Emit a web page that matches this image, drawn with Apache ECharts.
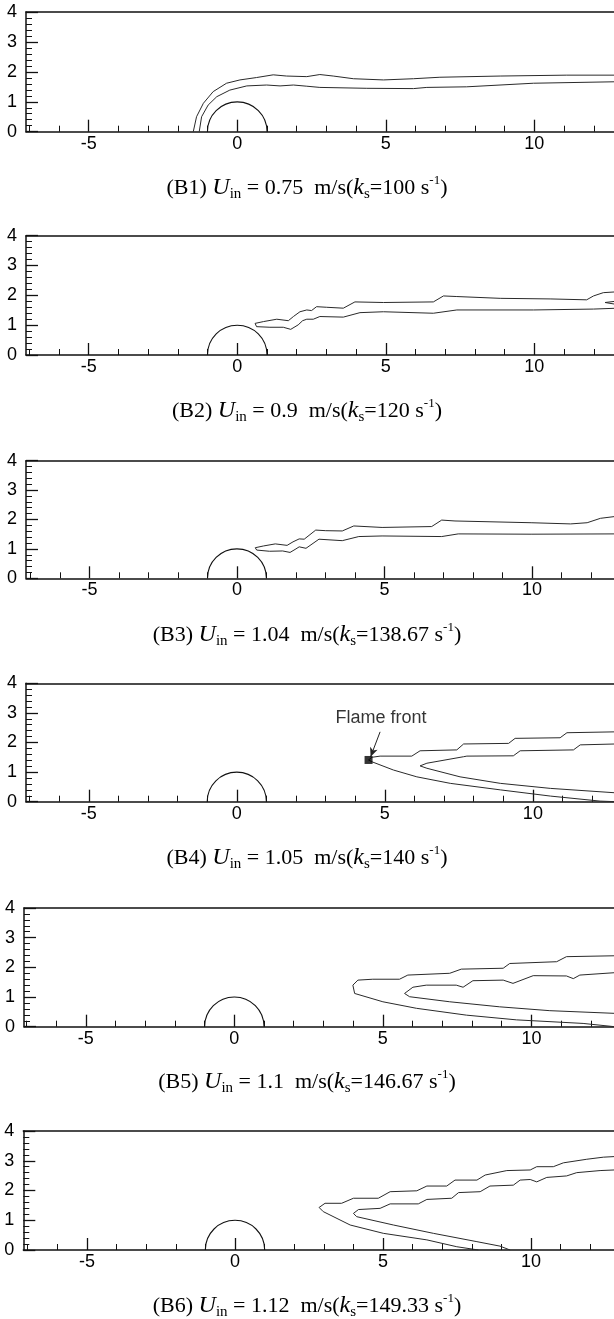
<!DOCTYPE html>
<html><head><meta charset="utf-8">
<script src="https://cdn.jsdelivr.net/npm/echarts@6/dist/echarts.min.js"></script>
<style>html,body{margin:0;padding:0;background:#fff}#c{width:614px;height:1319px}</style>
</head><body><div id="c"></div><script>
// ---------- data ----------
const xMajorTicks = [-5, 0, 5, 10];
const xMinorTicks = [-7, -6, -4, -3, -2, -1, 1, 2, 3, 4, 6, 7, 8, 9, 11, 12];
const yTicks = [0, 1, 2, 3, 4];
const obstacle = [[0, 0, 1]]; // centre x, centre y, radius
const caseIds = ['B1', 'B2', 'B3', 'B4', 'B5', 'B6'];
const caseUin = ['0.75', '0.9', '1.04', '1.05', '1.1', '1.12'];
const caseKs = ['100', '120', '138.67', '140', '146.67', '149.33'];
const flameFront = [[4.45, 1.41]];
const flameFrontLabel = [[4.87, 2.83]];
const flameFrontArrow = [[4.84, 2.36], [4.52, 1.52]];

const b1Outer = [[-1.48,0],[-1.37,0.5],[-1.14,0.95],[-0.81,1.34],[-0.36,1.62],[0.09,1.73],[0.65,1.81],[1.21,1.9],[1.66,1.86],[2.34,1.84],[2.78,1.91],[3.23,1.86],[3.91,1.77],[4.92,1.73],[5.93,1.77],[6.82,1.82],[8.85,1.86],[11.09,1.89],[12.8,1.89]];
const b1Inner = [[-1.28,0],[-1.2,0.5],[-0.98,0.89],[-0.69,1.17],[-0.25,1.39],[0.32,1.53],[0.99,1.56],[1.44,1.53],[1.89,1.56],[2.34,1.52],[2.78,1.48],[4.36,1.45],[5.93,1.44],[6.38,1.48],[7.72,1.5],[9.97,1.62],[12.8,1.67]];

const b2Upper = [[0.6,1.06],[0.88,1.12],[1.33,1.2],[1.72,1.15],[1.89,1.29],[2.11,1.45],[2.34,1.51],[2.5,1.49],[2.67,1.62],[3.01,1.6],[3.57,1.57],[3.96,1.78],[4.92,1.76],[6.6,1.78],[6.94,1.98],[7.39,1.96],[8.85,1.9],[10.53,1.88],[11.76,1.85],[11.99,1.98],[12.32,2.09],[12.8,2.12]];
const b2Lower = [[0.6,1.06],[0.65,0.95],[1.1,0.93],[1.55,0.93],[1.8,0.86],[2.05,1.01],[2.2,1.15],[2.34,1.2],[2.56,1.2],[2.78,1.29],[3.57,1.27],[4.13,1.42],[4.92,1.45],[6.6,1.4],[7.39,1.51],[9.97,1.51],[11.99,1.54],[12.8,1.57]];
const b2Tail = [[12.8,1.81],[12.38,1.76],[12.8,1.69]];

const b3Upper = [[0.62,1.04],[0.9,1.1],[1.3,1.17],[1.7,1.12],[1.9,1.24],[2.11,1.34],[2.28,1.33],[2.67,1.64],[3.01,1.62],[3.57,1.61],[3.96,1.78],[4.92,1.73],[6.6,1.76],[6.94,1.98],[7.39,1.95],[9.97,1.89],[11.31,1.85],[11.87,1.89],[12.32,2.04],[12.8,2.1]];
const b3Lower = [[0.62,1.04],[0.67,0.96],[1.1,0.92],[1.55,0.93],[1.8,0.88],[2.0,1.0],[2.11,1.07],[2.34,1.02],[2.78,1.33],[3.57,1.28],[4.13,1.42],[4.92,1.44],[6.94,1.42],[7.5,1.51],[9.97,1.5],[12.8,1.51]];

const b4OuterUpper = [[4.45,1.41],[4.56,1.5],[4.84,1.54],[5.91,1.54],[6.19,1.72],[7.43,1.75],[7.66,1.95],[9.18,1.97],[9.4,2.14],[10.92,2.16],[11.15,2.33],[12.8,2.36]];
const b4OuterLower = [[4.45,1.41],[4.56,1.35],[5.29,1.07],[6.08,0.84],[7.21,0.62],[8.9,0.4],[10.59,0.19],[12.27,0.02],[12.8,0]];
const b4InnerUpper = [[6.19,1.21],[6.42,1.3],[7.66,1.52],[7.77,1.54],[9.34,1.55],[9.57,1.72],[11.37,1.75],[11.6,1.92],[12.8,1.95]];
const b4InnerLower = [[6.19,1.21],[6.42,1.13],[7.54,0.84],[8.9,0.62],[10.59,0.45],[12.8,0.3]];

const b5OuterUpper = [[3.99,1.4],[4.16,1.57],[4.66,1.6],[5.56,1.6],[5.84,1.74],[7.25,1.8],[7.64,1.94],[9.05,1.97],[9.27,2.13],[10.85,2.19],[11.18,2.36],[12.8,2.39]];
const b5OuterLower = [[3.99,1.4],[4.05,1.12],[5.0,0.84],[6.13,0.62],[7.81,0.39],[9.5,0.23],[11.74,0.11],[12.8,0]];
const b5InnerUpper = [[5.73,1.12],[6.01,1.33],[6.46,1.4],[7.47,1.4],[7.7,1.33],[8.03,1.55],[9.05,1.57],[9.38,1.46],[10.06,1.72],[11.18,1.71],[11.41,1.62],[11.63,1.74],[12.8,1.82]];
const b5InnerLower = [[5.73,1.12],[5.9,1.01],[7.25,0.84],[8.93,0.67],[10.62,0.54],[12.8,0.45]];

const b6OuterUpper = [[2.84,1.43],[3.04,1.57],[3.6,1.57],[4.0,1.74],[4.84,1.74],[5.24,1.96],[6.14,1.99],[6.48,2.15],[7.15,2.15],[7.43,2.35],[8.17,2.35],[8.45,2.52],[9.18,2.67],[9.97,2.69],[10.19,2.8],[10.75,2.8],[11.09,2.93],[11.88,3.05],[12.44,3.12],[12.8,3.14]];
const b6OuterLower = [[2.84,1.43],[2.98,1.29],[3.89,0.84],[5.01,0.56],[6.48,0.34],[7.49,0.11],[8.22,0]];
const b6InnerUpper = [[4.0,1.23],[4.17,1.36],[4.9,1.4],[5.24,1.55],[6.19,1.55],[6.48,1.7],[7.32,1.74],[7.55,1.93],[8.28,1.96],[8.61,2.15],[9.4,2.18],[9.63,2.35],[9.97,2.37],[10.19,2.29],[10.53,2.44],[11.2,2.49],[11.54,2.6],[12.33,2.67],[12.8,2.69]];
const b6InnerLower = [[4.0,1.23],[4.11,1.12],[5.35,0.84],[6.7,0.56],[8.17,0.28],[8.95,0.13],[9.29,0]];

const caseLines = [
  [b1Outer, b1Inner],
  [b2Upper, b2Lower, b2Tail],
  [b3Upper, b3Lower],
  [b4OuterUpper, b4OuterLower, b4InnerUpper, b4InnerLower],
  [b5OuterUpper, b5OuterLower, b5InnerUpper, b5InnerLower],
  [b6OuterUpper, b6OuterLower, b6InnerUpper, b6InnerLower]
];

// ---------- layout (pixels) ----------
const layout = [
  {top: 12,    bottom: 131.7,  left: 26,   xmin: -7.11, xmax: 12.68, cap: 174},
  {top: 235.7, bottom: 355,    left: 26,   xmin: -7.11, xmax: 12.68, cap: 397},
  {top: 460.7, bottom: 578.3,  left: 26,   xmin: -7.15, xmax: 12.78, cap: 621},
  {top: 683.3, bottom: 801.7,  left: 26,   xmin: -7.12, xmax: 12.74, cap: 844},
  {top: 908,   bottom: 1026.7, left: 24,   xmin: -7.08, xmax: 12.78, cap: 1068},
  {top: 1131,  bottom: 1250,   left: 23.3, xmin: -7.15, xmax: 12.8,  cap: 1292}
];

const INK = '#111';
const LINE = '#2a2a2a';
const grid = [], xAxis = [], yAxis = [], series = [], title = [];

const capRich = {
  n:   {fontFamily: 'Liberation Serif', fontWeight: 'normal', fontSize: 22, color: '#000', lineHeight: 28},
  i:   {fontFamily: 'Liberation Serif', fontWeight: 'normal', fontSize: 24, fontStyle: 'italic', color: '#000', lineHeight: 28},
  sub: {fontFamily: 'Liberation Serif', fontWeight: 'normal', fontSize: 15, color: '#000', lineHeight: 14, verticalAlign: 'bottom'},
  sup: {fontFamily: 'Liberation Serif', fontWeight: 'normal', fontSize: 13, color: '#000', lineHeight: 17, verticalAlign: 'top'}
};

layout.forEach((L, k) => {
  grid.push({left: L.left, top: L.top, width: 614 - L.left + 2, height: L.bottom - L.top, containLabel: false});
  xAxis.push({
    type: 'value', gridIndex: k, min: L.xmin, max: L.xmax, position: 'bottom',
    axisLine: {show: true, onZero: false, lineStyle: {color: INK, width: 1.5}},
    axisTick: {show: true, inside: true, length: 12, customValues: xMajorTicks, lineStyle: {color: INK, width: 1.3}},
    axisLabel: {show: true, customValues: xMajorTicks, margin: 3, color: '#000', fontFamily: 'Liberation Sans', fontSize: 18},
    splitLine: {show: false}
  });
  xAxis.push({
    type: 'value', gridIndex: k, min: L.xmin, max: L.xmax, position: 'bottom',
    axisLine: {show: false, onZero: false},
    axisTick: {show: true, inside: true, length: 6, customValues: xMinorTicks, lineStyle: {color: INK, width: 1}},
    axisLabel: {show: false}, splitLine: {show: false}
  });
  xAxis.push({
    type: 'value', gridIndex: k, min: L.xmin, max: L.xmax, position: 'top',
    axisLine: {show: true, onZero: false, lineStyle: {color: INK, width: 1.5}},
    axisTick: {show: false}, axisLabel: {show: false}, splitLine: {show: false}
  });
  yAxis.push({
    type: 'value', gridIndex: k, min: 0, max: 4, interval: 1, position: 'left',
    axisLine: {show: true, onZero: false, lineStyle: {color: INK, width: 1.5}},
    axisTick: {show: true, inside: true, length: 12, lineStyle: {color: INK, width: 1.3}},
    minorTick: {show: true, splitNumber: 5, length: 6, lineStyle: {color: INK, width: 1}},
    axisLabel: {show: true, margin: 9, color: '#000', fontFamily: 'Liberation Sans', fontSize: 18,
      customValues: yTicks},
    splitLine: {show: false}, minorSplitLine: {show: false}
  });
  const xi = 3 * k;
  series.push({
    type: 'custom', coordinateSystem: 'cartesian2d', xAxisIndex: xi, yAxisIndex: k,
    data: obstacle, clip: false, silent: true,
    renderItem: (params, api) => {
      const c = api.coord([api.value(0), api.value(1)]);
      const r = api.size([api.value(2), api.value(2)]);
      return {type: 'arc', shape: {cx: c[0], cy: c[1], r: (r[0] + r[1]) / 2, startAngle: Math.PI, endAngle: 2 * Math.PI},
        style: {stroke: INK, fill: null, lineWidth: 1.1}};
    }
  });
  caseLines[k].forEach(d => {
    series.push({type: 'line', xAxisIndex: xi, yAxisIndex: k, data: d, showSymbol: false, symbol: 'none',
      lineStyle: {color: LINE, width: 1}, silent: true, clip: true});
  });
  title.push({
    text: `{n|(${caseIds[k]}) }{i|U}{sub|in}{n| = ${caseUin[k]}  m/s(}{i|k}{sub|s}{n|=${caseKs[k]} s}{sup|-1}{n|)}`,
    left: 'center', top: L.cap, padding: 0,
    textStyle: {fontWeight: 'normal', rich: capRich}
  });
});

series.push({
  type: 'scatter', xAxisIndex: 9, yAxisIndex: 3, data: flameFront, symbol: 'rect', symbolSize: 8,
  itemStyle: {color: '#000'}, silent: true, z: 5,
  markLine: {
    silent: true, symbol: ['none', 'arrow'], symbolSize: [6, 9], label: {show: false},
    lineStyle: {color: '#222', width: 1, type: 'solid'},
    data: [[{coord: flameFrontArrow[0]}, {coord: flameFrontArrow[1]}]]
  }
});
series.push({
  type: 'scatter', xAxisIndex: 9, yAxisIndex: 3, data: flameFrontLabel, symbolSize: 0, silent: true,
  label: {show: true, position: 'inside', formatter: 'Flame front', color: '#000', fontFamily: 'Liberation Sans', fontSize: 18}
});

const chart = echarts.init(document.getElementById('c'), null, {renderer: 'canvas'});
chart.setOption({animation: false, backgroundColor: '#fff', title, grid, xAxis, yAxis, series});
</script></body></html>
